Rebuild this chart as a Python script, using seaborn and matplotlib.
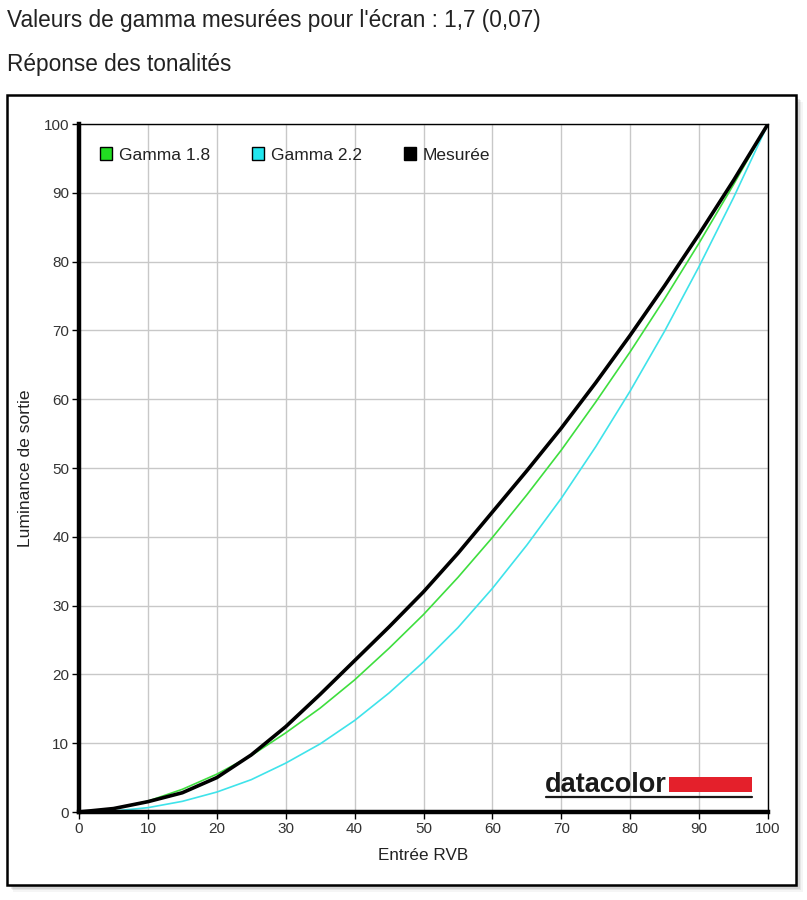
import matplotlib
matplotlib.use("Agg")
import matplotlib.pyplot as plt
import matplotlib.patches as mpatches
import seaborn as sns
import pandas as pd

# ---- data ----
entree = [0, 5, 10, 15, 20, 25, 30, 35, 40, 45, 50, 55, 60, 65, 70, 75, 80, 85, 90, 95, 100]
gamma18 = [0, 0.46, 1.58, 3.3, 5.5, 8.2, 11.5, 15.1, 19.2, 23.8, 28.7, 34.1, 39.9, 46.1,
           52.6, 59.6, 66.9, 74.6, 82.7, 91.2, 100]
gamma22 = [0, 0.14, 0.63, 1.55, 2.9, 4.7, 7.1, 9.9, 13.3, 17.3, 21.8, 26.8, 32.5, 38.8,
           45.6, 53.1, 61.2, 69.9, 79.3, 89.3, 100]
mesuree = [0, 0.5, 1.5, 2.8, 5.0, 8.3, 12.4, 17.1, 22.0, 26.9, 32.0, 37.6, 43.6, 49.6,
           55.8, 62.4, 69.3, 76.5, 84.0, 91.8, 100]
series_names = ["Gamma 1.8", "Gamma 2.2", "Mesurée"]
ticks = [0, 10, 20, 30, 40, 50, 60, 70, 80, 90, 100]
title1 = "Valeurs de gamma mesurées pour l'écran : 1,7 (0,07)"
title2 = "Réponse des tonalités"

df = pd.DataFrame({"x": entree, "Gamma 1.8": gamma18, "Gamma 2.2": gamma22, "Mesurée": mesuree})

sns.set_style("white")
plt.rcParams["font.family"] = ["Liberation Sans", "DejaVu Sans"]

W, H = 807, 900
fig = plt.figure(figsize=(W / 100, H / 100), dpi=100)
fig.patch.set_facecolor("white")

def fx(px):
    return px / W

def fy(py):
    return 1 - py / H

# titles
fig.text(fx(7), fy(21), title1, fontsize=16.3, color="#222222", va="center", ha="left")
fig.text(fx(7), fy(64), title2, fontsize=16.3, color="#222222", va="center", ha="left")

# shadow + frame
for i, a in enumerate([0.10, 0.08, 0.06, 0.04]):
    off = 2 + i * 1.5
    fig.add_artist(mpatches.Rectangle((fx(7 + off), fy(885 + off)), fx(789), (885 - 95) / H,
                                      transform=fig.transFigure, facecolor="black", alpha=a,
                                      edgecolor="none", zorder=0))
fig.add_artist(mpatches.Rectangle((fx(7), fy(885)), fx(789), (885 - 95) / H,
                                  transform=fig.transFigure, facecolor="white",
                                  edgecolor="black", linewidth=1.8, zorder=1))

ax = fig.add_axes([fx(79), fy(812), fx(768) - fx(79), (812 - 124) / H])
ax.set_zorder(2)
ax.set_facecolor("white")

colors = {"Gamma 1.8": "#3ede3e", "Gamma 2.2": "#3fe3ea", "Mesurée": "#000000"}
widths = {"Gamma 1.8": 1.2, "Gamma 2.2": 1.2, "Mesurée": 2.6}
for name in ["Gamma 2.2", "Gamma 1.8", "Mesurée"]:
    sns.lineplot(data=df, x="x", y=name, ax=ax, color=colors[name], linewidth=widths[name],
                 zorder=3 if name == "Mesurée" else 2, solid_joinstyle="round",
                 solid_capstyle="round")

ax.set_xlim(0, 100)
ax.set_ylim(0, 100)
ax.set_xticks(ticks)
ax.set_yticks(ticks)
ax.grid(True, color="#c8c8c8", linewidth=1.0)
ax.set_axisbelow(True)
for s in ["top", "right"]:
    ax.spines[s].set_linewidth(1.0)
    ax.spines[s].set_color("black")
for s in ["left", "bottom"]:
    ax.spines[s].set_linewidth(3.2)
    ax.spines[s].set_color("black")
ax.tick_params(axis="both", direction="out", length=5, width=1, color="black",
               labelsize=11, labelcolor="#333333", pad=2, left=True, bottom=True)
ax.set_xlabel("Entrée RVB", fontsize=12.3, color="#222222", labelpad=9)
ax.set_ylabel("Luminance de sortie", fontsize=12.6, color="#222222", labelpad=8)

handles = [mpatches.Patch(facecolor=c, edgecolor="black", linewidth=1.0)
           for c in ["#22dd22", "#22e6ee", "#000000"]]
leg = ax.legend(handles, series_names, loc="center left", bbox_to_anchor=(0.0305, 0.955),
                ncol=3, frameon=False, fontsize=12.5, handlelength=0.7, handleheight=0.7,
                handletextpad=0.4, columnspacing=2.4, borderpad=0, borderaxespad=0)
for t in leg.get_texts():
    t.set_color("#222222")

# datacolor logo
fig.text(fx(545), fy(792), "datacolor", fontsize=19.5, fontweight="bold", color="#1a1a1a",
         ha="left", va="baseline", zorder=5)
fig.add_artist(mpatches.Rectangle((fx(669), fy(792)), fx(83), 15 / H, transform=fig.transFigure,
                                  facecolor="#e4202b", edgecolor="none", zorder=5))
fig.add_artist(plt.Line2D([fx(546), fx(752)], [fy(797), fy(797)], transform=fig.transFigure,
                          color="#1a1a1a", linewidth=1.6, zorder=5))

fig.savefig("out.png", dpi=100)
